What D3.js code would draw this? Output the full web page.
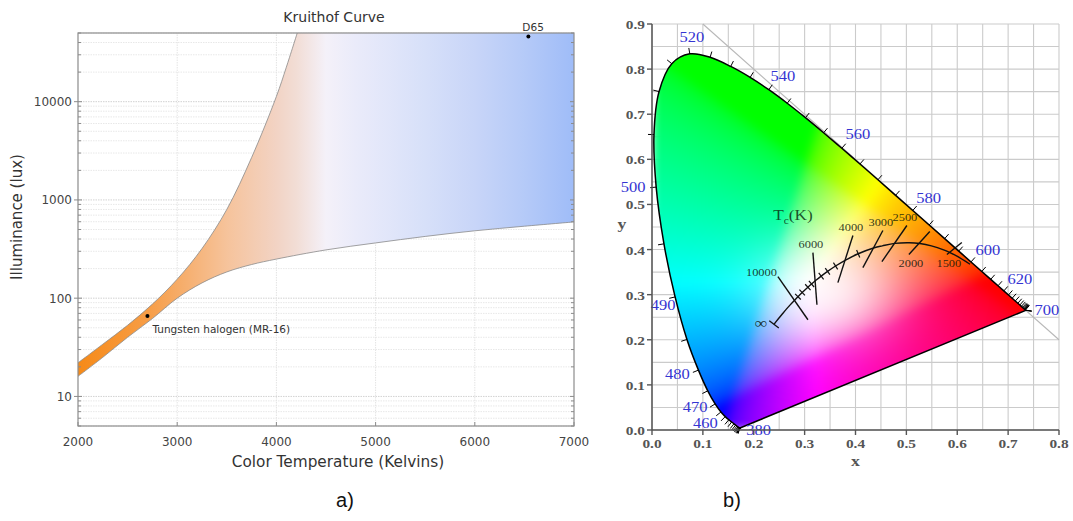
<!DOCTYPE html>
<html><head><meta charset="utf-8">
<script src="https://cdn.jsdelivr.net/npm/d3@7"></script>
<style>body{margin:0;background:#fff} svg{display:block}</style>
</head><body>
<script>
// ---------- Kruithof band (illuminance limits vs. colour temperature) ----------
const upperK   = [2000, 2250, 2500, 2750, 3000, 3250, 3500, 3750, 4000, 4100, 4210];
const upperLux = [22, 34, 53, 87, 156, 320, 800, 2700, 11300, 22400, 50000];
const lowerK   = [2000, 2250, 2500, 2750, 3000, 3250, 3500, 3750, 4000, 4500, 5000, 5500, 6000, 6500, 7000];
const lowerLux = [16, 25, 40, 62, 100, 143, 185, 220, 250, 310, 365, 425, 485, 540, 597];
const sourceNames = ["Tungsten halogen (MR-16)", "D65"];
const sourceK     = [2700, 6540];
const sourceLux   = [66, 46000];
const kTicks   = [2000, 3000, 4000, 5000, 6000, 7000];
const luxTicks = [10, 100, 1000, 10000];

// ---------- CIE 1931 chromaticity diagram ----------
const wavelengths = [380,385,390,395,400,405,410,415,420,425,430,435,440,445,450,455,460,465,470,475,480,485,490,495,500,505,510,515,520,525,530,535,540,545,550,555,560,565,570,575,580,585,590,595,600,605,610,615,620,625,630,635,640,645,650,655,660,665,670,675,680,685,690,695,700];
const locusX = [0.1741,0.1740,0.1738,0.1736,0.1733,0.1730,0.1726,0.1721,0.1714,0.1703,0.1689,0.1669,0.1644,0.1611,0.1566,0.1510,0.1440,0.1355,0.1241,0.1096,0.0913,0.0687,0.0454,0.0235,0.0082,0.0039,0.0139,0.0389,0.0743,0.1142,0.1547,0.1929,0.2296,0.2658,0.3016,0.3373,0.3731,0.4087,0.4441,0.4788,0.5125,0.5448,0.5752,0.6029,0.6270,0.6482,0.6658,0.6801,0.6915,0.7006,0.7079,0.7140,0.7190,0.7230,0.7260,0.7283,0.7300,0.7311,0.7320,0.7327,0.7334,0.7340,0.7344,0.7346,0.7347];
const locusY = [0.0050,0.0050,0.0049,0.0049,0.0048,0.0048,0.0048,0.0048,0.0051,0.0058,0.0069,0.0086,0.0109,0.0138,0.0177,0.0227,0.0297,0.0399,0.0578,0.0868,0.1327,0.2007,0.2950,0.4127,0.5384,0.6548,0.7502,0.8120,0.8338,0.8262,0.8059,0.7816,0.7543,0.7243,0.6923,0.6589,0.6245,0.5896,0.5547,0.5202,0.4866,0.4544,0.4242,0.3965,0.3725,0.3514,0.3340,0.3197,0.3083,0.2993,0.2920,0.2859,0.2809,0.2770,0.2740,0.2717,0.2700,0.2689,0.2680,0.2673,0.2666,0.2660,0.2656,0.2654,0.2653];
const labelledWavelengths = [380, 460, 470, 480, 490, 500, 520, 540, 560, 580, 600, 620, 700];

const planckT = [1200,1400,1500,1600,1800,2000,2200,2500,2800,3000,3500,4000,4500,5000,5500,6000,6500,7000,8000,9000,10000,12000,15000,20000,30000,50000,Infinity];
const planckX = [0.6251,0.5985,0.5857,0.5732,0.5492,0.5267,0.5056,0.4770,0.4527,0.4369,0.4053,0.3805,0.3608,0.3451,0.3325,0.3221,0.3135,0.3064,0.2952,0.2869,0.2807,0.2716,0.2637,0.2565,0.2501,0.2447,0.2399];
const planckY = [0.3674,0.3858,0.3931,0.3993,0.4081,0.4133,0.4152,0.4137,0.4083,0.4041,0.3907,0.3768,0.3636,0.3516,0.3411,0.3318,0.3237,0.3166,0.3048,0.2956,0.2883,0.2774,0.2674,0.2577,0.2489,0.2413,0.2342];
const minorIsoT = [3500, 4500, 5000, 5500, 6500, 7000, 8000, 9000];

const isoT  = [10000, 6000, 4000, 3000, 2500, 2000, 1500];
const isoX1 = [0.2475, 0.3163, 0.3949, 0.4538, 0.5010, 0.5460, 0.6090];
const isoY1 = [0.3400, 0.3933, 0.4311, 0.4422, 0.4533, 0.4400, 0.4156];
const isoX2 = [0.3065, 0.3242, 0.3654, 0.4145, 0.4519, 0.5050, 0.5796];
const isoY2 = [0.2444, 0.2778, 0.3267, 0.3600, 0.3733, 0.3889, 0.3889];

const xTicksB = [0, 0.1, 0.2, 0.3, 0.4, 0.5, 0.6, 0.7, 0.8];
const yTicksB = [0, 0.1, 0.2, 0.3, 0.4, 0.5, 0.6, 0.7, 0.8, 0.9];
const gridB   = [0,0.05,0.1,0.15,0.2,0.25,0.3,0.35,0.4,0.45,0.5,0.55,0.6,0.65,0.7,0.75,0.8,0.85,0.9];

const W = 1073, H = 521;
const svg = d3.select("body").append("svg").attr("width", W).attr("height", H);
svg.append("rect").attr("width", W).attr("height", H).attr("fill", "#fff");
const defs = svg.append("defs");

// ================= Panel a =================
const xA = d3.scaleLinear().domain([2000, 7000]).range([78, 574]);
const yA = d3.scaleLog().domain([5, 50000]).range([426, 33]);
const gA = svg.append("g");
const sansA = "'DejaVu Sans', Verdana, sans-serif";

// grid
const minorLux = [];
[1, 10, 100, 1000, 10000].forEach(d => [1,2,3,4,5,6,7,8,9].forEach(m => {
  const v = d * m; if (v >= 5 && v <= 50000) minorLux.push(v);
}));
gA.append("g").selectAll("line").data(minorLux).join("line")
  .attr("x1", xA(2000)).attr("x2", xA(7000))
  .attr("y1", d => yA(d)).attr("y2", d => yA(d))
  .attr("stroke", d => luxTicks.includes(d) ? "#d2d2d2" : "#e8e8e8")
  .attr("stroke-dasharray", "1.5,1").attr("stroke-width", 1);
gA.append("g").selectAll("line").data(kTicks.slice(1, -1)).join("line")
  .attr("x1", d => xA(d)).attr("x2", d => xA(d))
  .attr("y1", yA(5)).attr("y2", yA(50000))
  .attr("stroke", "#e4e4e4").attr("stroke-dasharray", "1.5,1");

// band gradient
const grad = defs.append("linearGradient").attr("id", "kgrad")
  .attr("gradientUnits", "userSpaceOnUse")
  .attr("x1", xA(2000)).attr("x2", xA(7000)).attr("y1", 0).attr("y2", 0);
[[0, "#f68a18"], [0.14, "#f79d46"], [0.2, "#f6ab66"], [0.3, "#f6c39b"], [0.4, "#f2d3c4"],
 [0.44, "#f2ddd5"], [0.5, "#f4f1f9"], [0.56, "#eaebfa"], [0.7, "#d7e0f9"], [0.8, "#c8d5f8"],
 [0.9, "#b5caf8"], [1, "#9fbcf8"]].forEach(([o, c]) => grad.append("stop").attr("offset", o).attr("stop-color", c));

defs.append("clipPath").attr("id", "clipA").append("rect")
  .attr("x", xA(2000)).attr("y", yA(50000)).attr("width", xA(7000) - xA(2000)).attr("height", yA(5) - yA(50000));

const upperPts = upperK.map((k, i) => [xA(k), yA(upperLux[i])]);
const lowerPts = lowerK.map((k, i) => [xA(k), yA(lowerLux[i])]);
const lineGen = d3.line().curve(d3.curveCatmullRom.alpha(0.5));
const upperPath = lineGen(upperPts);
const lowerPath = lineGen(lowerPts);
const lowerRev = lineGen(lowerPts.slice().reverse());
const bandPath = upperPath + `L${xA(7000)},${yA(50000)}` + lowerRev.replace(/^M/, "L") + "Z";
const band = gA.append("g").attr("clip-path", "url(#clipA)");
band.append("path").attr("d", bandPath).attr("fill", "url(#kgrad)");
band.append("path").attr("d", upperPath).attr("fill", "none").attr("stroke", "#8a8a8a").attr("stroke-width", 0.8);
band.append("path").attr("d", lowerPath).attr("fill", "none").attr("stroke", "#8a8a8a").attr("stroke-width", 0.8);

// frame and ticks
gA.append("rect").attr("x", xA(2000)).attr("y", yA(50000))
  .attr("width", xA(7000) - xA(2000)).attr("height", yA(5) - yA(50000))
  .attr("fill", "none").attr("stroke", "#8c8c8c").attr("stroke-width", 1.2);
gA.append("g").selectAll("line").data(minorLux).join("line")
  .attr("x1", d => luxTicks.includes(d) ? xA(2000) - 4 : xA(2000))
  .attr("x2", d => xA(2000) + (luxTicks.includes(d) ? 4 : 3))
  .attr("y1", d => yA(d)).attr("y2", d => yA(d)).attr("stroke", "#8c8c8c");
gA.append("g").selectAll("line").data(minorLux).join("line")
  .attr("x1", xA(7000)).attr("x2", d => xA(7000) - (luxTicks.includes(d) ? 4 : 3))
  .attr("y1", d => yA(d)).attr("y2", d => yA(d)).attr("stroke", "#8c8c8c");
gA.append("g").selectAll("line").data(kTicks).join("line")
  .attr("x1", d => xA(d)).attr("x2", d => xA(d))
  .attr("y1", yA(5)).attr("y2", yA(5) - 4).attr("stroke", "#8c8c8c");

gA.append("g").selectAll("text").data(luxTicks).join("text")
  .attr("x", xA(2000) - 6).attr("y", d => yA(d) + 4.5)
  .attr("text-anchor", "end").attr("font-family", sansA).attr("font-size", 12).attr("fill", "#444")
  .text(d => d);
gA.append("g").selectAll("text").data(kTicks).join("text")
  .attr("x", d => xA(d)).attr("y", yA(5) + 20)
  .attr("text-anchor", "middle").attr("font-family", sansA).attr("font-size", 12).attr("fill", "#444")
  .text(d => d);

gA.append("text").attr("x", 334).attr("y", 22).attr("text-anchor", "middle")
  .attr("font-family", sansA).attr("font-size", 14).attr("fill", "#333").text("Kruithof Curve");
gA.append("text").attr("x", 338).attr("y", 467).attr("text-anchor", "middle")
  .attr("font-family", sansA).attr("font-size", 15.3).attr("fill", "#333").text("Color Temperature (Kelvins)");
gA.append("text").attr("transform", "translate(22,217) rotate(-90)")
  .attr("text-anchor", "middle").attr("font-family", sansA).attr("font-size", 15).attr("fill", "#333")
  .text("Illuminance (lux)");

// light sources
gA.append("g").selectAll("circle").data(sourceK).join("circle")
  .attr("cx", d => xA(d)).attr("cy", (d, i) => yA(sourceLux[i])).attr("r", 2).attr("fill", "#000");
gA.append("text").attr("x", xA(sourceK[0]) + 5).attr("y", yA(sourceLux[0]) + 17)
  .attr("font-family", sansA).attr("font-size", 10.5).attr("fill", "#333").text(sourceNames[0]);
gA.append("text").attr("x", xA(sourceK[1]) - 6).attr("y", yA(sourceLux[1]) - 6)
  .attr("font-family", sansA).attr("font-size", 10.5).attr("fill", "#333").text(sourceNames[1]);

// ================= Panel b =================
const xB = d3.scaleLinear().domain([0, 0.8]).range([652, 1059]);
const yB = d3.scaleLinear().domain([0, 0.9]).range([430, 24]);
const gB = svg.append("g");
const serif = "'Liberation Serif', 'Times New Roman', serif";

gB.append("g").selectAll("line").data(gridB.filter(v => v <= 0.8)).join("line")
  .attr("x1", d => xB(d)).attr("x2", d => xB(d)).attr("y1", yB(0)).attr("y2", yB(0.9))
  .attr("stroke", "#cbcbcb").attr("stroke-width", 1.1);
gB.append("g").selectAll("line").data(gridB).join("line")
  .attr("y1", d => yB(d)).attr("y2", d => yB(d)).attr("x1", xB(0)).attr("x2", xB(0.8))
  .attr("stroke", "#cbcbcb").attr("stroke-width", 1.1);
gB.append("line").attr("x1", xB(0.1)).attr("y1", yB(0.9)).attr("x2", xB(0.8)).attr("y2", yB(0.2))
  .attr("stroke", "#b8b8b8").attr("stroke-width", 1.1);

// chromaticity colours, rendered per pixel and clipped to the spectral locus
const locusPts = locusX.map((x, i) => [xB(x), yB(locusY[i])]);
const locusPath = d3.line().curve(d3.curveCatmullRom.alpha(0.5))(locusPts) + "Z";
defs.append("clipPath").attr("id", "clipLocus").append("path").attr("d", locusPath);

function gammaC(c) { return c <= 0.0031308 ? 12.92 * c : 1.055 * Math.pow(c, 1 / 2.4) - 0.055; }
function xyColor(x, y) {
  if (y <= 0.0001) y = 0.0001;
  const X = x / y, Y = 1, Z = (1 - x - y) / y;
  let r = 3.2406 * X - 1.5372 * Y - 0.4986 * Z;
  let g = -0.9689 * X + 1.8758 * Y + 0.0415 * Z;
  let b = 0.0557 * X - 0.2040 * Y + 1.0570 * Z;
  r = Math.max(r, 0); g = Math.max(g, 0); b = Math.max(b, 0);
  const m = Math.max(r, g, b) || 1;
  let c = [gammaC(r / m), gammaC(g / m), gammaC(b / m)];
  // soften towards white around the neutral region
  const dx = (x - 0.345) / 0.13, dy = (y - 0.305) / 0.11;
  const w = 0.8 * Math.exp(-(dx * dx + dy * dy));
  return c.map(v => v * (1 - w) + w);
}
const px0 = Math.floor(xB(0)), px1 = Math.ceil(xB(0.75));
const py0 = Math.floor(yB(0.85)), py1 = Math.ceil(yB(0));
const cw = px1 - px0, ch = py1 - py0;
const canvas = document.createElement("canvas");
canvas.width = cw; canvas.height = ch;
const ctx = canvas.getContext("2d");
const img = ctx.createImageData(cw, ch);
for (let j = 0; j < ch; j++) {
  for (let i = 0; i < cw; i++) {
    const cx = xB.invert(px0 + i + 0.5), cy = yB.invert(py0 + j + 0.5);
    const [r, g, b] = xyColor(cx, cy);
    const k = (j * cw + i) * 4;
    img.data[k] = Math.round(255 * Math.min(1, r));
    img.data[k + 1] = Math.round(255 * Math.min(1, g));
    img.data[k + 2] = Math.round(255 * Math.min(1, b));
    img.data[k + 3] = 255;
  }
}
ctx.putImageData(img, 0, 0);
// slight blur to smooth the hue transitions
const canvas2 = document.createElement("canvas");
canvas2.width = cw; canvas2.height = ch;
const ctx2 = canvas2.getContext("2d");
ctx2.filter = "blur(5px)";
ctx2.drawImage(canvas, 0, 0);
ctx2.filter = "none";
gB.append("image").attr("x", px0).attr("y", py0).attr("width", cw).attr("height", ch)
  .attr("preserveAspectRatio", "none")
  .attr("href", canvas2.toDataURL()).attr("clip-path", "url(#clipLocus)");

gB.append("path").attr("d", locusPath).attr("fill", "none").attr("stroke", "#000")
  .attr("stroke-width", 1.5).attr("stroke-linejoin", "round");

// wavelength ticks along the locus, pointing outward
const centre = [xB(0.33), yB(0.33)];
function outwardNormal(i) {
  const a = locusPts[Math.max(0, i - 1)], b = locusPts[Math.min(locusPts.length - 1, i + 1)];
  let tx = b[0] - a[0], ty = b[1] - a[1];
  let len = Math.hypot(tx, ty);
  let nx, ny;
  if (len < 0.6) {
    nx = locusPts[i][0] - centre[0]; ny = locusPts[i][1] - centre[1];
    len = Math.hypot(nx, ny); nx /= len; ny /= len;
  } else {
    nx = ty / len; ny = -tx / len;
    const dx = locusPts[i][0] - centre[0], dy = locusPts[i][1] - centre[1];
    if (nx * dx + ny * dy < 0) { nx = -nx; ny = -ny; }
  }
  return [nx, ny];
}
gB.append("g").selectAll("line").data(wavelengths).join("line")
  .each(function (w, i) {
    const [nx, ny] = outwardNormal(i);
    const p = locusPts[i];
    d3.select(this).attr("x1", p[0]).attr("y1", p[1])
      .attr("x2", p[0] + nx * 6).attr("y2", p[1] + ny * 6);
  })
  .attr("stroke", "#000").attr("stroke-width", 1);

function wideText(sel, x, y, txt, size, fill, anchor, weight) {
  return sel.append("text").attr("transform", `translate(${x},${y}) scale(1.18,1)`)
    .attr("text-anchor", anchor || "middle").attr("font-family", serif)
    .attr("font-size", size).attr("font-weight", weight || "normal").attr("fill", fill).text(txt);
}
// label placement relative to each labelled point on the locus (px)
const wlLabelOffset = {
  380: [18, 2], 460: [-20, 6], 470: [-20, 3], 480: [-21, 4], 490: [-12, 8], 500: [-23, 0],
  520: [2, -17], 540: [14, -14], 560: [16, -14], 580: [16, -12], 600: [17, -12], 620: [16, -12], 700: [21, 0]
};
labelledWavelengths.forEach(w => {
  const p = locusPts[wavelengths.indexOf(w)];
  const [dx, dy] = wlLabelOffset[w];
  wideText(gB, p[0] + dx, p[1] + dy + 5, w, 14, "#3434d2");
});

// Planckian locus with isotherms
const planckPts = planckX.map((x, i) => [xB(x), yB(planckY[i])]);
gB.append("path").attr("d", d3.line().curve(d3.curveCatmullRom)(planckPts))
  .attr("fill", "none").attr("stroke", "#111").attr("stroke-width", 1.4);
function planckNormal(i) {
  const a = planckPts[Math.max(0, i - 1)], b = planckPts[Math.min(planckPts.length - 1, i + 1)];
  const tx = b[0] - a[0], ty = b[1] - a[1], len = Math.hypot(tx, ty);
  return [ty / len, -tx / len];
}
gB.append("g").selectAll("line").data(minorIsoT).join("line")
  .each(function (t) {
    const i = planckT.indexOf(t);
    const [nx, ny] = planckNormal(i), p = planckPts[i];
    d3.select(this).attr("x1", p[0] - nx * 4).attr("y1", p[1] - ny * 4)
      .attr("x2", p[0] + nx * 4).attr("y2", p[1] + ny * 4);
  })
  .attr("stroke", "#111").attr("stroke-width", 1.2);
{
  const i = planckT.length - 1;
  const [nx, ny] = planckNormal(i), p = planckPts[i];
  gB.append("line").attr("x1", p[0] - nx * 6).attr("y1", p[1] - ny * 6)
    .attr("x2", p[0] + nx * 6).attr("y2", p[1] + ny * 6).attr("stroke", "#111").attr("stroke-width", 1.3);
}
gB.append("g").selectAll("line").data(isoT).join("line")
  .attr("x1", (d, i) => xB(isoX1[i])).attr("y1", (d, i) => yB(isoY1[i]))
  .attr("x2", (d, i) => xB(isoX2[i])).attr("y2", (d, i) => yB(isoY2[i]))
  .attr("stroke", "#111").attr("stroke-width", 1.4);

isoT.forEach((t, i) => {
  let x, y, anchor = "middle";
  if (i === 0) { x = xB(isoX1[i]) - 1; y = yB(isoY1[i]) - 1; anchor = "end"; }
  else if (t <= 2000) { x = xB(isoX2[i]) + 2; y = yB(isoY2[i]) + 12; }
  else { x = xB(isoX1[i]) - 2; y = yB(isoY1[i]) - 5; }
  wideText(gB, x, y, t, 10.5, "rgba(10,20,10,0.85)", anchor);
});
wideText(gB, xB(planckX[planckX.length - 1]) - 13, yB(planckY[planckY.length - 1]) + 4, "\u221E", 15, "rgba(10,20,10,0.85)");
{
  const t = gB.append("text").attr("transform", `translate(${xB(0.277)},${yB(0.465)}) scale(1.15,1)`)
    .attr("text-anchor", "middle").attr("font-family", serif).attr("font-size", 15)
    .attr("fill", "rgba(10,50,20,0.85)");
  t.append("tspan").text("T");
  t.append("tspan").attr("font-size", 10).attr("dy", 4).text("c");
  t.append("tspan").attr("dy", -4).text("(K)");
}

// axes
gB.append("line").attr("x1", xB(0)).attr("x2", xB(0)).attr("y1", yB(0)).attr("y2", yB(0.9))
  .attr("stroke", "#555").attr("stroke-width", 1.5);
gB.append("line").attr("x1", xB(0)).attr("x2", xB(0.8)).attr("y1", yB(0)).attr("y2", yB(0))
  .attr("stroke", "#555").attr("stroke-width", 1.5);
gB.append("g").selectAll("line").data(yTicksB).join("line")
  .attr("x1", xB(0) - 5).attr("x2", xB(0)).attr("y1", d => yB(d)).attr("y2", d => yB(d))
  .attr("stroke", "#555").attr("stroke-width", 1.4);
gB.append("g").selectAll("line").data(xTicksB).join("line")
  .attr("x1", d => xB(d)).attr("x2", d => xB(d)).attr("y1", yB(0)).attr("y2", yB(0) + 5)
  .attr("stroke", "#555").attr("stroke-width", 1.4);
yTicksB.forEach(v => wideText(gB, xB(0) - 7, yB(v) + 5, v.toFixed(1), 13, "#555", "end", "bold"));
xTicksB.forEach(v => wideText(gB, xB(v), yB(0) + 18, v.toFixed(1), 13, "#555", "middle", "bold"));
wideText(gB, xB(0.4), 466, "x", 15, "#555", "middle", "bold");
wideText(gB, 622, 229, "y", 15, "#555", "middle", "bold");

// panel captions
svg.append("text").attr("x", 345).attr("y", 507).attr("text-anchor", "middle")
  .attr("font-family", "'Liberation Sans', Arial, sans-serif").attr("font-size", 20).attr("fill", "#111").text("a)");
svg.append("text").attr("x", 732).attr("y", 507).attr("text-anchor", "middle")
  .attr("font-family", "'Liberation Sans', Arial, sans-serif").attr("font-size", 20).attr("fill", "#111").text("b)");
</script>
</body></html>
